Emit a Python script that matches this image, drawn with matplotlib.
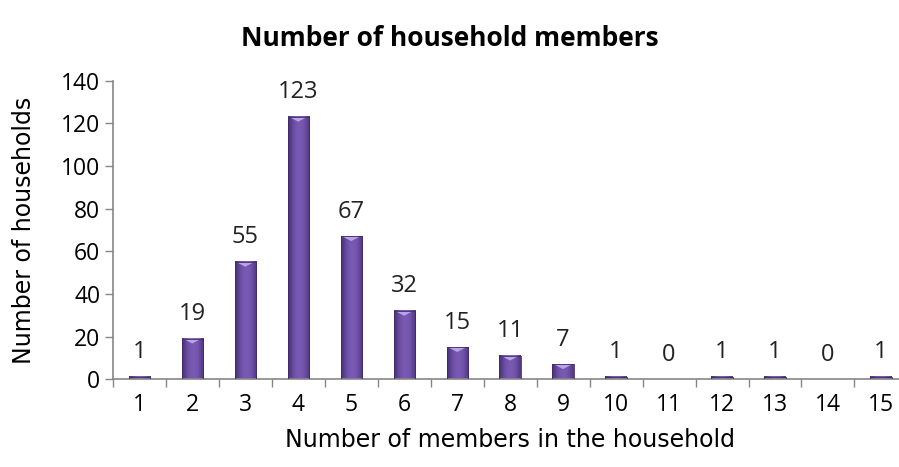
import matplotlib.pyplot as plt
import numpy as np
from matplotlib.patches import Polygon

members = [str(i) for i in range(1, 16)]
households = [1, 19, 55, 123, 67, 32, 15, 11, 7, 1, 0, 1, 1, 0, 1]
yticks = [0, 20, 40, 60, 80, 100, 120, 140]

fig = plt.figure(figsize=(8.99, 4.67), dpi=100)
ax = fig.add_axes([0.1254, 0.1878, 0.884, 0.6394])

x = np.arange(len(members))
width = 0.40
axis_grey = '#868686'
num_font = 'Open Sans'

# horizontal shading across each bar: dark edges, lighter middle
shade = np.array([0.0, 0.4, 0.75, 0.92, 1.0, 0.97, 0.85, 0.55, 0.15])
dark = np.array([0x4b, 0x34, 0x7c]) / 255
light = np.array([0x7a, 0x5a, 0xb4]) / 255
grad = dark[None, :] + shade[:, None] * (light - dark)[None, :]

for xi, h in zip(x, households):
    if h > 0:
        x0, x1 = xi - width / 2, xi + width / 2
        ax.imshow(grad[None, :, :], extent=[x0, x1, 0, h], aspect='auto',
                  interpolation='bicubic', zorder=2)
        # bevelled top
        bh = min(2.2, h * 0.5)
        tri = Polygon([[x0 + 0.03, h], [x1 - 0.03, h], [xi, h - bh]],
                      closed=True, facecolor='#b9a2e6', edgecolor='none', zorder=3)
        ax.add_patch(tri)
        ax.add_patch(plt.Rectangle((x0, 0), width, h, facecolor='none',
                                   edgecolor='#3f2a66', linewidth=0.6, zorder=4))
    ax.text(xi, h + 6, str(h), ha='center', va='bottom', fontsize=17,
            family=num_font, color='#222222')

ax.set_xlim(-0.5, len(members) - 0.5)
ax.set_ylim(0, 140)
ax.set_yticks(yticks)
ax.set_yticklabels([str(v) for v in yticks], family=num_font, fontsize=16.5)
ax.set_xticks(x)
ax.set_xticklabels(members, family=num_font, fontsize=16.5)
ax.set_xticks(np.arange(len(members) + 1) - 0.5, minor=True)
ax.tick_params(axis='x', which='major', length=0, pad=10)
ax.tick_params(axis='x', which='minor', length=6, color=axis_grey, width=1)
ax.tick_params(axis='y', length=6, color=axis_grey, width=1, pad=3)

for side in ['top', 'right']:
    ax.spines[side].set_visible(False)
for side in ['left', 'bottom']:
    ax.spines[side].set_color(axis_grey)
    ax.spines[side].set_linewidth(1.2)

ax.set_xlabel('Number of members in the household', family='Liberation Sans Narrow',
              fontsize=17, labelpad=8)
ax.set_ylabel('Number of households', family='Liberation Sans Narrow',
              fontsize=17)
ax.yaxis.set_label_coords(-0.097, 0.5)
fig.text(0.5, 0.918, 'Number of household members', ha='center', va='center',
         fontsize=19, fontweight='bold', family=num_font)

fig.savefig('out.png', dpi=100)
